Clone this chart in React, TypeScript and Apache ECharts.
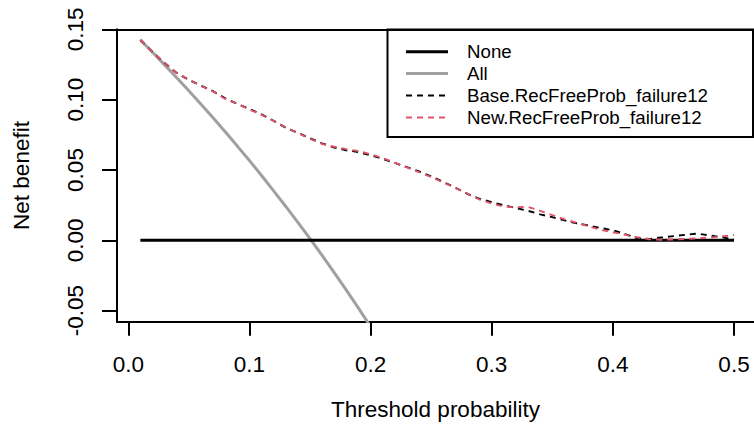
import React, { useEffect, useRef } from "react";
import * as echarts from "echarts";

const thresholds: number[] = [
  0.01, 0.02, 0.03, 0.04, 0.05, 0.06, 0.07, 0.08, 0.09, 0.1,
  0.11, 0.12, 0.13, 0.14, 0.15, 0.16, 0.17, 0.18, 0.19, 0.2,
  0.21, 0.22, 0.23, 0.24, 0.25, 0.26, 0.27, 0.28, 0.29, 0.3,
  0.31, 0.32, 0.33, 0.34, 0.35, 0.36, 0.37, 0.38, 0.39, 0.4,
  0.41, 0.42, 0.43, 0.44, 0.45, 0.46, 0.47, 0.48, 0.49, 0.5,
];

const noneValues: number[] = thresholds.map(() => 0);

const allValues: number[] = [
  0.1424, 0.1337, 0.1247, 0.1156, 0.1063, 0.0968, 0.0871, 0.0772, 0.067, 0.0567,
  0.0461, 0.0352, 0.0241, 0.0128, 0.0012, -0.0107, -0.0229, -0.0354, -0.0482, -0.0613,
];

const baseValues: number[] = [
  0.1424, 0.134, 0.126, 0.119, 0.114, 0.11, 0.106, 0.101, 0.097, 0.0935,
  0.0895, 0.085, 0.08, 0.0765, 0.0725, 0.069, 0.066, 0.064, 0.0628, 0.0605,
  0.058, 0.055, 0.052, 0.049, 0.0455, 0.0415, 0.0375, 0.033, 0.0295, 0.0272,
  0.025, 0.023, 0.021, 0.0185, 0.0165, 0.0142, 0.0122, 0.0105, 0.0088, 0.0072,
  0.0045, 0.0015, 0.001, 0.002, 0.003, 0.004, 0.0048, 0.0035, 0.0022, 0.0005,
];

const newValues: number[] = [
  0.1424, 0.1338, 0.1262, 0.1188, 0.1142, 0.1098, 0.1058, 0.1005, 0.0972, 0.093,
  0.0892, 0.0848, 0.0803, 0.0762, 0.0722, 0.0685, 0.0665, 0.0648, 0.0635, 0.0612,
  0.0585, 0.0552, 0.0518, 0.0485, 0.045, 0.0412, 0.0372, 0.0332, 0.029, 0.0262,
  0.024, 0.0235, 0.0238, 0.021, 0.018, 0.015, 0.0125, 0.01, 0.0075, 0.0058,
  0.004, 0.0022, 0.0008, 0.0004, 0.0006, 0.001, 0.0014, 0.002, 0.0028, 0.0038,
];

const xTicks: number[] = [0, 0.1, 0.2, 0.3, 0.4, 0.5];
const yTicks: number[] = [-0.05, 0, 0.05, 0.1, 0.15];

const legendNames: string[] = ["None", "All", "Base.RecFreeProb_failure12", "New.RecFreeProb_failure12"];

const FONT = "'Liberation Sans', Arial, sans-serif";
const AXIS_FONT = 22.5;
const LEGEND_FONT = 18.7;

const pairs = (vals: number[]) => vals.map((v, i) => [thresholds[i], v]);

export default function App() {
  const ref = useRef<HTMLDivElement>(null);
  useEffect(() => {
    if (!ref.current) return;
    const chart = echarts.init(ref.current, null, { renderer: "svg" });

    const legendStyles = [
      { stroke: "#000000", lineWidth: 3, lineDash: null as any },
      { stroke: "#A0A0A0", lineWidth: 3, lineDash: null as any },
      { stroke: "#000000", lineWidth: 1.9, lineDash: [6, 5] },
      { stroke: "#DF536B", lineWidth: 1.9, lineDash: [6, 5] },
    ];
    const rowY = [51.7, 73.5, 95.5, 117.5];
    const legendChildren: any[] = [
      {
        type: "rect",
        shape: { x: 387.5, y: 29.5, width: 365.5, height: 107.5 },
        style: { fill: "#ffffff", stroke: "#000000", lineWidth: 2 },
      },
    ];
    legendNames.forEach((name, i) => {
      legendChildren.push({
        type: "line",
        shape: { x1: 406, y1: rowY[i], x2: 448, y2: rowY[i] },
        style: { ...legendStyles[i] },
      });
      legendChildren.push({
        type: "text",
        x: 467,
        y: rowY[i],
        style: {
          text: name,
          fill: "#000000",
          font: `${LEGEND_FONT}px ${FONT}`,
          verticalAlign: "middle",
          align: "left",
        },
      });
    });

    chart.setOption({
      animation: false,
      backgroundColor: "#ffffff",
      grid: { left: 117, top: 29.3, right: 0, bottom: 110.3, containLabel: false },
      xAxis: [
        {
          type: "value",
          min: -0.0093,
          max: 0.5165,
          position: "bottom",
          name: "Threshold probability",
          nameLocation: "middle",
          nameGap: 76,
          nameTextStyle: { color: "#000", fontFamily: FONT, fontSize: AXIS_FONT },
          axisLine: { show: true, onZero: false, lineStyle: { color: "#000", width: 2 } },
          axisTick: { show: true, inside: false, length: 14, customValues: xTicks, lineStyle: { color: "#000", width: 2 } },
          axisLabel: {
            show: true,
            customValues: xTicks,
            margin: 31,
            color: "#000",
            fontFamily: FONT,
            fontSize: AXIS_FONT,
            formatter: (v: number) => v.toFixed(1),
          },
          splitLine: { show: false },
        },
        {
          type: "value",
          min: -0.0093,
          max: 0.5165,
          position: "top",
          axisLine: { show: true, onZero: false, lineStyle: { color: "#000", width: 2 } },
          axisTick: { show: false },
          axisLabel: { show: false },
          splitLine: { show: false },
        },
      ],
      yAxis: {
        type: "value",
        min: -0.0578,
        max: 0.15,
        name: "Net benefit",
        nameLocation: "middle",
        nameGap: 84,
        nameTextStyle: { color: "#000", fontFamily: FONT, fontSize: AXIS_FONT },
        axisLine: { show: true, onZero: false, lineStyle: { color: "#000", width: 2 } },
        axisTick: { show: true, inside: false, length: 15, customValues: yTicks, lineStyle: { color: "#000", width: 2 } },
        axisLabel: {
          show: true,
          customValues: yTicks,
          rotate: 90,
          margin: 30,
          color: "#000",
          fontFamily: FONT,
          fontSize: AXIS_FONT,
          formatter: (v: number) => v.toFixed(2),
        },
        splitLine: { show: false },
      },
      series: [
        {
          name: legendNames[0],
          type: "line",
          data: pairs(noneValues),
          showSymbol: false,
          symbol: "none",
          clip: true,
          lineStyle: { color: "#000000", width: 3 },
          z: 3,
        },
        {
          name: legendNames[1],
          type: "line",
          data: pairs(allValues),
          showSymbol: false,
          symbol: "none",
          clip: true,
          lineStyle: { color: "#A0A0A0", width: 3 },
          z: 2,
        },
        {
          name: legendNames[2],
          type: "line",
          data: pairs(baseValues),
          showSymbol: false,
          symbol: "none",
          clip: true,
          lineStyle: { color: "#000000", width: 1.9, type: [6, 5] },
          z: 4,
        },
        {
          name: legendNames[3],
          type: "line",
          data: pairs(newValues),
          showSymbol: false,
          symbol: "none",
          clip: true,
          lineStyle: { color: "#DF536B", width: 1.9, type: [6, 5] },
          z: 5,
        },
      ],
      graphic: [{ type: "group", z: 100, children: legendChildren }],
    });

    return () => {
      chart.dispose();
    };
  }, []);

  return (
    <div
      ref={ref}
      style={{ position: "fixed", left: 0, top: 0, width: 754, height: 432, background: "#fff" }}
    />
  );
}
